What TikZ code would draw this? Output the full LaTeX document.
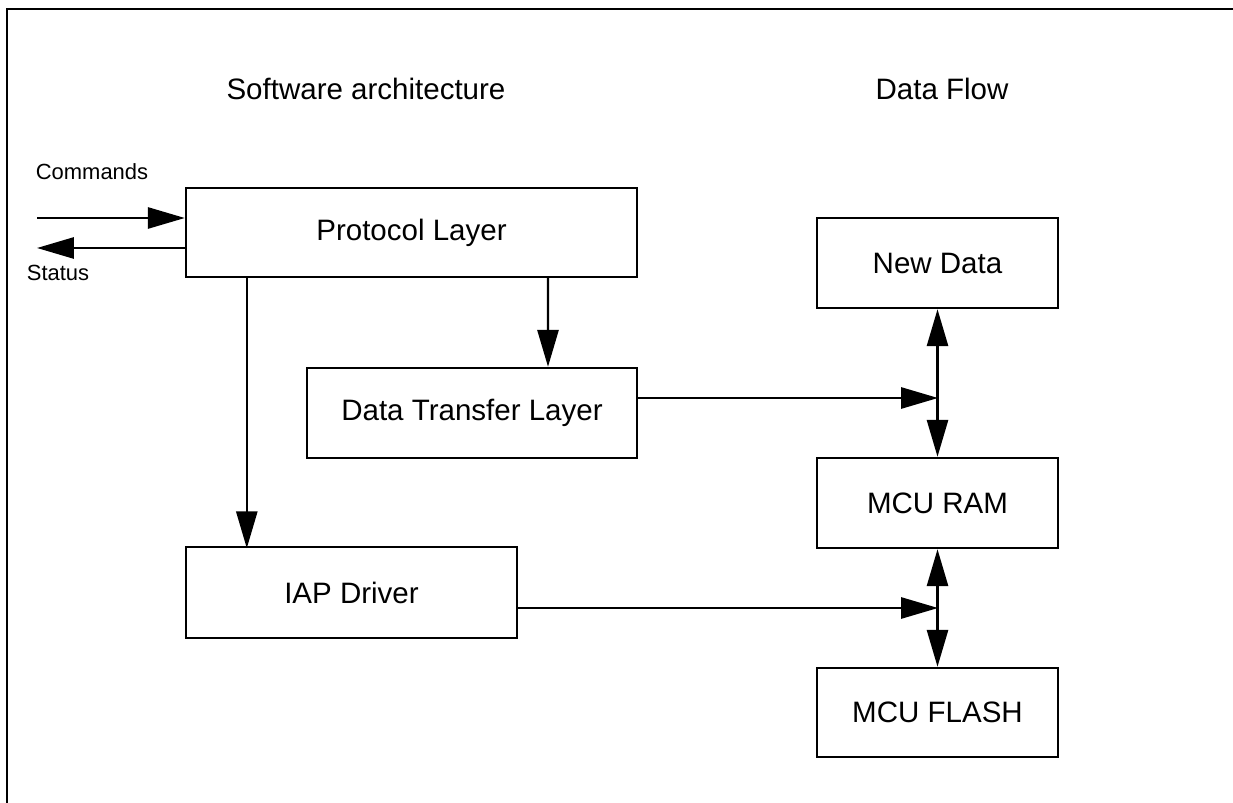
\documentclass[tikz,border=0pt]{standalone}
\usepackage{fontspec}
\setmainfont{Liberation Sans}
\usetikzlibrary{arrows.meta,calc}

\begin{document}
\begin{tikzpicture}[x=0.02cm, y=-0.02cm, line width=1.4pt,
  blk/.style={draw, inner sep=0pt, font=\fontsize{16.8}{20}\selectfont},
  lbl/.style={font=\fontsize{12.5}{15}\selectfont},
  ttl/.style={font=\fontsize{16.8}{20}\selectfont},
  >={Triangle[length=21pt,width=12pt]}]
  \useasboundingbox (0,0) rectangle (1233,803);
  \draw[line width=1.6pt] (7,803) -- (7,9) -- (1233,9);
  \node[ttl] (10) at (366,89) {Software architecture};
  \node[ttl] (11) at (942,89) {Data Flow};
  \node[blk, minimum width=9.02cm, minimum height=1.78cm] (0) at (411.5,232.5) {Protocol Layer};
  \node[blk, minimum width=6.6cm, minimum height=1.8cm] (1) at (472,413) {Data Transfer Layer};
  \node[blk, minimum width=6.62cm, minimum height=1.82cm] (2) at (351.5,592.5) {IAP Driver};
  \node[blk, minimum width=4.82cm, minimum height=1.8cm] (3) at (937.5,263) {New Data};
  \node[blk, minimum width=4.82cm, minimum height=1.8cm] (4) at (937.5,503) {MCU RAM};
  \node[blk, minimum width=4.82cm, minimum height=1.78cm] (5) at (937.5,712.5) {MCU FLASH};
  \node[lbl] (12) at (92,172) {Commands};
  \node[lbl] (13) at (58,273) {Status};
  \coordinate (6) at (37,218);
  \coordinate (7) at (37,248);
  \coordinate (8) at (938,398);
  \coordinate (9) at (938,608);
  \draw[->] (6) -- (6 -| 0.west);
  \draw[->] (7 -| 0.west) -- (7);
  \draw[->] (0.south -| 2.west) ++(62,0) -- ++(0,270);
  \draw[->] ($(0.south)+(136.5,0)$) -- ($(1.north)+(76,0)$);
  \draw[<->] (3) -- (4);
  \draw[<->] (4) -- (5);
  \draw[->] (8 -| 1.east) -- (8);
  \draw[->] (9 -| 2.east) -- (9);
\end{tikzpicture}
\end{document}
